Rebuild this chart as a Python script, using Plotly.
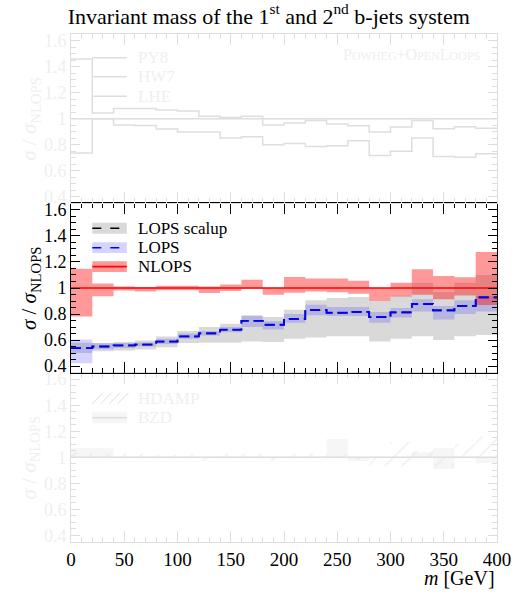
import plotly.graph_objects as go

# ---------------- data ----------------
bin_edges = [0, 20, 40, 60, 80, 100, 120, 140, 160, 180, 200,
             220, 240, 260, 280, 300, 320, 340, 360, 380, 400]

# middle panel (ratio to NLOPS)
nlops_central = [1.0] * 20
nlops_lo = [0.782, 0.936, 0.980, 0.974, 0.982, 0.982, 0.962, 0.977, 0.995, 0.948,
            0.964, 0.974, 0.968, 0.956, 0.900, 0.935, 0.948, 0.913, 0.943, 0.870]
nlops_hi = [1.148, 1.035, 1.012, 1.008, 1.018, 1.018, 1.012, 1.026, 1.064, 1.002,
            1.085, 1.072, 1.072, 1.055, 1.002, 1.041, 1.143, 1.092, 1.082, 1.277]

lops_central = [0.538, 0.551, 0.559, 0.566, 0.589, 0.628, 0.652, 0.680, 0.748, 0.718,
                0.763, 0.830, 0.810, 0.817, 0.776, 0.813, 0.877, 0.828, 0.863, 0.928]
lops_lo = [0.423, 0.530, 0.540, 0.550, 0.570, 0.610, 0.635, 0.660, 0.700, 0.682,
           0.733, 0.790, 0.785, 0.785, 0.733, 0.774, 0.820, 0.759, 0.800, 0.820]
lops_hi = [0.605, 0.575, 0.578, 0.582, 0.610, 0.650, 0.670, 0.700, 0.785, 0.744,
           0.800, 0.872, 0.854, 0.854, 0.815, 0.846, 0.913, 0.862, 0.905, 0.938]

scalup_central = lops_central
scalup_lo = [0.500, 0.515, 0.521, 0.528, 0.546, 0.577, 0.580, 0.580, 0.590, 0.585,
             0.610, 0.620, 0.630, 0.630, 0.590, 0.610, 0.630, 0.600, 0.630, 0.640]
scalup_hi = [0.580, 0.577, 0.585, 0.597, 0.628, 0.669, 0.700, 0.726, 0.790, 0.777,
             0.833, 0.905, 0.923, 0.930, 0.900, 0.940, 1.040, 0.970, 1.040, 1.100]

# top panel (faded)
py8 = [1.0] * 20
hw7 = [1.459, 1.044, 1.079, 1.079, 1.067, 1.059, 1.018, 1.008, 1.018, 0.951,
       0.967, 0.985, 0.959, 0.946, 0.897, 0.936, 0.985, 0.923, 0.938, 0.926]
lhe = [0.736, 1.000, 0.951, 0.948, 0.920, 0.897, 0.897, 0.851, 0.862, 0.800,
       0.810, 0.787, 0.792, 0.831, 0.718, 0.749, 0.851, 0.710, 0.703, 0.731]

# bottom panel (faded)
hdamp_lo = [1.0, 1.0, 1.0, 1.0, 1.0, 1.0, 0.97, 1.0, 1.0, 0.97,
            1.0, 1.0, 1.0, 0.98, 0.93, 0.93, 1.0, 0.93, 1.0, 1.0]
hdamp_hi = [1.04, 1.03, 1.03, 1.03, 1.02, 1.02, 1.0, 1.03, 1.03, 1.0,
            1.03, 1.03, 1.02, 1.0, 1.0, 1.12, 1.05, 1.0, 1.10, 1.16]
bzd_central = [1.0] * 20
bzd_lo = [1.0, 1.0, 0.995, 0.995, 0.995, 0.995, 0.995, 0.995, 0.995, 0.995,
          0.995, 0.995, 1.0, 0.97, 0.995, 0.995, 1.0, 0.91, 0.995, 0.955]
bzd_hi = [1.07, 1.07, 1.005, 1.005, 1.005, 1.005, 1.005, 1.005, 1.005, 1.005,
          1.005, 1.005, 1.14, 1.0, 1.005, 1.005, 1.04, 1.07, 1.005, 1.0]

x_ticks = [0, 50, 100, 150, 200, 250, 300, 350, 400]
y_ticks = [0.4, 0.6, 0.8, 1.0, 1.2, 1.4, 1.6]
y_tick_labels = ["0.4", "0.6", "0.8", "1", "1.2", "1.4", "1.6"]

# ---------------- style ----------------
FONT = "Liberation Serif"
FADE_LINE = "#dedede"
FADE_TEXT = "#efefef"
FADE_FILL = "#f6f6f6"


def st(v):
    return list(v) + [v[-1]]


fig = go.Figure()


def band(lo, hi, color, xa, ya, pattern=None):
    fig.add_trace(go.Scatter(x=bin_edges, y=st(lo), mode="lines", line=dict(width=0, shape="hv"),
                             xaxis=xa, yaxis=ya, showlegend=False, hoverinfo="skip"))
    kw = {}
    if pattern is not None:
        kw["fillpattern"] = pattern
        fc = "rgba(0,0,0,0)"
    else:
        fc = color
    fig.add_trace(go.Scatter(x=bin_edges, y=st(hi), mode="lines", line=dict(width=0, shape="hv"),
                             fill="tonexty", fillcolor=fc, xaxis=xa, yaxis=ya,
                             showlegend=False, hoverinfo="skip", **kw))


def line(vals, color, xa, ya, width=1.5, dash=None):
    fig.add_trace(go.Scatter(x=bin_edges, y=st(vals), mode="lines",
                             line=dict(color=color, width=width, shape="hv", dash=dash),
                             xaxis=xa, yaxis=ya, showlegend=False, hoverinfo="skip"))


# top panel (x3/y3)
line(py8, FADE_LINE, "x3", "y3")
line(hw7, FADE_LINE, "x3", "y3")
line(lhe, FADE_LINE, "x3", "y3")

# middle panel (x2/y2)
band(scalup_lo, scalup_hi, "rgba(0,0,0,0.15)", "x2", "y2")
band(lops_lo, lops_hi, "rgba(40,40,255,0.2)", "x2", "y2")
band(nlops_lo, nlops_hi, "rgba(255,0,0,0.4)", "x2", "y2")
line(scalup_central, "#000000", "x2", "y2", width=1.6, dash="10px,5px")
line(lops_central, "#0000ff", "x2", "y2", width=1.8, dash="10px,5px")
line(nlops_central, "#ff0000", "x2", "y2", width=1.5)

# bottom panel (x/y)
band(bzd_lo, bzd_hi, FADE_FILL, "x", "y")
band(hdamp_lo, hdamp_hi, None, "x", "y",
     pattern=dict(shape="/", fgcolor=FADE_LINE, bgcolor="rgba(0,0,0,0)", size=12, solidity=0.12))
line(bzd_central, FADE_LINE, "x", "y")


def xaxis_cfg(color, anchor, show_labels, tickfont_color):
    return dict(range=[0, 400], anchor=anchor, tickmode="array", tickvals=x_ticks,
                ticks="inside", ticklen=11, tickwidth=1, tickcolor=color,
                minor=dict(dtick=10, tick0=0, ticks="inside", ticklen=5, tickcolor=color, tickwidth=1),
                showline=True, linecolor=color, linewidth=1, mirror="allticks",
                showgrid=False, zeroline=False, showticklabels=show_labels,
                automargin=False,
                tickfont=dict(family=FONT, size=19, color=tickfont_color))


def yaxis_cfg(color, domain, anchor, tickfont_color):
    return dict(range=[0.35, 1.65], domain=domain, anchor=anchor, tickmode="array",
                tickvals=y_ticks, ticktext=y_tick_labels,
                ticks="inside", ticklen=9, tickwidth=1, tickcolor=color,
                minor=dict(dtick=0.05, tick0=0.4, ticks="inside", ticklen=5, tickcolor=color, tickwidth=1),
                showline=True, linecolor=color, linewidth=1, mirror="allticks",
                showgrid=False, zeroline=False, automargin=False,
                tickfont=dict(family=FONT, size=18, color=tickfont_color))


fig.update_layout(
    width=512, height=592,
    margin=dict(l=71, r=15, t=34, b=50, autoexpand=False),
    paper_bgcolor="white", plot_bgcolor="rgba(0,0,0,0)",
    showlegend=False,
    title=dict(text="Invariant mass of the 1<sup>st</sup> and 2<sup>nd</sup> b-jets system",
               x=0.525, xanchor="center", xref="container",
               y=0.973, yanchor="middle", yref="container", automargin=False,
               font=dict(family=FONT, size=22, color="black")),
    xaxis=xaxis_cfg(FADE_LINE, "y", True, "black"),
    xaxis2=xaxis_cfg("black", "y2", False, "black"),
    xaxis3=xaxis_cfg(FADE_LINE, "y3", False, FADE_TEXT),
    yaxis=yaxis_cfg(FADE_LINE, [0, 1 / 3], "x", FADE_TEXT),
    yaxis2=yaxis_cfg("black", [1 / 3, 2 / 3], "x2", "black"),
    yaxis3=yaxis_cfg(FADE_LINE, [2 / 3, 1], "x3", FADE_TEXT),
)
fig.update_layout(xaxis2=dict(matches="x"), xaxis3=dict(matches="x"))

ann = []
shapes = []

# y axis titles
ylab = "<i>σ</i> / <i>σ</i><sub>NLOPS</sub>"
for yc, col in [(5 / 6, FADE_TEXT), (0.5, "black"), (1 / 6, FADE_TEXT)]:
    ann.append(dict(text=ylab, xref="paper", yref="paper", x=-0.096, y=yc, textangle=-90,
                    showarrow=False, xanchor="center", yanchor="middle",
                    font=dict(family=FONT, size=21, color=col)))

# x axis title
ann.append(dict(text="<i>m</i> [GeV]", xref="paper", yref="paper", x=1.0, y=-0.045,
                showarrow=False, xanchor="right", yanchor="top",
                font=dict(family=FONT, size=20, color="black")))

# middle legend
x0, x1, xt = 0.05, 0.131, 0.152
hh = 0.032
leg_mid = [
    ("LOPS scalup", 0.853, "rgba(0,0,0,0.15)", "#000000", "dash"),
    ("LOPS", 0.738, "rgba(40,40,255,0.2)", "#0000ff", "dash"),
    ("NLOPS", 0.626, "rgba(255,0,0,0.4)", "#ff0000", "solid"),
]
for name, yy, fc, lc, ds in leg_mid:
    shapes.append(dict(type="rect", xref="x2 domain", yref="y2 domain", x0=x0, x1=x1,
                       y0=yy - hh, y1=yy + hh, fillcolor=fc, line=dict(width=0), layer="below"))
    shapes.append(dict(type="line", xref="x2 domain", yref="y2 domain", x0=x0, x1=x1,
                       y0=yy, y1=yy, line=dict(color=lc, width=1.6, dash=ds)))
    ann.append(dict(text=name, xref="x2 domain", yref="y2 domain", x=xt, y=yy,
                    showarrow=False, xanchor="left", yanchor="middle",
                    font=dict(family=FONT, size=17, color="black")))

# top legend
for name, yy in [("PY8", 0.86), ("HW7", 0.747), ("LHE", 0.632)]:
    shapes.append(dict(type="line", xref="x3 domain", yref="y3 domain", x0=x0, x1=x1,
                       y0=yy, y1=yy, line=dict(color=FADE_LINE, width=1.5)))
    ann.append(dict(text=name, xref="x3 domain", yref="y3 domain", x=xt, y=yy,
                    showarrow=False, xanchor="left", yanchor="middle",
                    font=dict(family=FONT, size=17, color=FADE_TEXT)))
ann.append(dict(text="P<span style='font-size:12px'>OWHEG</span>+O<span style='font-size:12px'>PEN</span>"
                     "L<span style='font-size:12px'>OOPS</span>",
                xref="x3 domain", yref="y3 domain", x=0.964, y=0.876, showarrow=False,
                xanchor="right", yanchor="middle", font=dict(family=FONT, size=16, color=FADE_TEXT)))

# bottom legend
yy = 0.849
path = ""
for i in range(4):
    xs = x0 + i * 0.02
    path += f"M{xs},{yy - hh} L{xs + 0.025},{yy + hh} "
shapes.append(dict(type="path", xref="x domain", yref="y domain", path=path,
                   line=dict(color=FADE_LINE, width=1)))
ann.append(dict(text="HDAMP", xref="x domain", yref="y domain", x=xt, y=yy, showarrow=False,
                xanchor="left", yanchor="middle", font=dict(family=FONT, size=17, color=FADE_TEXT)))
yy = 0.734
shapes.append(dict(type="rect", xref="x domain", yref="y domain", x0=x0, x1=x1,
                   y0=yy - hh, y1=yy + hh, fillcolor=FADE_FILL, line=dict(width=0), layer="below"))
shapes.append(dict(type="line", xref="x domain", yref="y domain", x0=x0, x1=x1,
                   y0=yy, y1=yy, line=dict(color=FADE_LINE, width=1.5)))
ann.append(dict(text="BZD", xref="x domain", yref="y domain", x=xt, y=yy, showarrow=False,
                xanchor="left", yanchor="middle", font=dict(family=FONT, size=17, color=FADE_TEXT)))

fig.update_layout(annotations=ann, shapes=shapes)
fig.write_html("out.html", config={"displayModeBar": False},
               post_script="document.body.style.margin='0px';")
